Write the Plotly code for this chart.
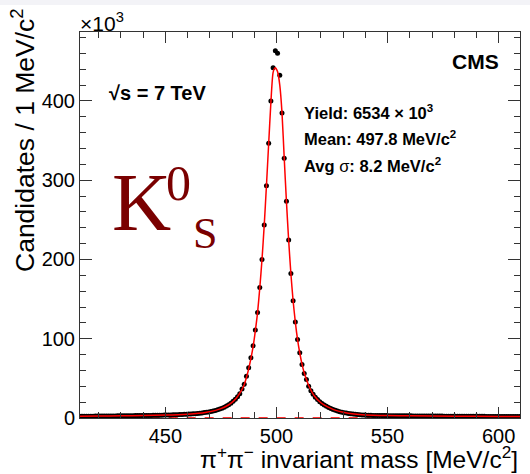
import numpy as np
import plotly.graph_objects as go

# ---------------- data ----------------
# bin centres: 1 MeV bins from 411 to 610 MeV/c^2
mass = [411.5 + i for i in range(199)]

# candidates per 1 MeV/c^2, in units of 10^3
tail_left_far = [2.2, 2.2, 2.2, 2.3, 2.3, 2.3, 2.3, 2.4, 2.4, 2.4,
                 2.4, 2.5, 2.5, 2.5, 2.6, 2.6, 2.6, 2.7, 2.7, 2.7,
                 2.8, 2.8, 2.8, 2.9, 2.9, 3.0, 3.0, 3.1, 3.1, 3.2,
                 3.2, 3.3, 3.3, 3.4, 3.4, 3.5, 3.5, 3.6, 3.7]
tail_left_near = [3.8, 3.9, 3.9, 4.0, 4.1, 4.2, 4.3, 4.4, 4.6, 4.7,
                  4.9, 5.1, 5.3, 5.5, 5.8, 6.1, 6.4, 6.8, 7.2, 7.7,
                  8.2, 8.8, 9.5, 10.3, 11.2, 12.3, 13.5, 15.0, 16.7, 18.7,
                  21.0, 23.7, 26.8, 30.5, 36.5, 42.7]
peak = [52.8, 63.5, 75.9, 91.0, 110.9, 133.2, 164.8, 200.1, 243.4, 293.1,
        346.6, 400.0, 442.0, 463.5, 460.2, 432.4, 384.8, 327.7, 273.4, 224.5,
        182.4, 147.9, 121.0, 99.1, 82.2, 67.6, 56.2, 48.6, 40.2]
tail_right_near = [34.5, 30.0, 26.3, 23.2, 20.6, 18.4, 16.4, 14.7, 13.2, 11.9,
                   10.7, 9.7, 8.8, 8.0, 7.3, 6.7, 6.2, 5.7, 5.3, 4.9,
                   4.6, 4.3, 4.1, 3.9, 3.7, 3.6, 3.5, 3.4, 3.3, 3.2]
tail_right_far = [3.1, 3.1, 3.0, 3.0, 3.0, 2.9, 2.9, 2.9, 2.8, 2.8,
                  2.8, 2.8, 2.7, 2.7, 2.7, 2.7, 2.6, 2.6, 2.6, 2.6,
                  2.5, 2.5, 2.5, 2.5, 2.5, 2.4, 2.4, 2.4, 2.4, 2.4,
                  2.3, 2.3, 2.3, 2.3, 2.3, 2.3, 2.2, 2.2, 2.2, 2.2,
                  2.2, 2.2, 2.1, 2.1, 2.1, 2.1, 2.1, 2.1, 2.1, 2.0,
                  2.0, 2.0, 2.0, 2.0, 2.0, 2.0, 2.0, 1.9, 1.9, 1.9,
                  1.9, 1.9, 1.9, 1.9, 1.9]
candidates = tail_left_far + tail_left_near + peak + tail_right_near + tail_right_far

# fit curve
fit_mass = [411, 420, 430, 440, 450, 460, 465, 470, 475, 478, 480, 482, 484,
            485.5, 486.5, 487.5, 488.5, 489.5, 490.5, 491.5, 492.5, 493.5, 494.5,
            495.5, 496.5, 497.5, 498.5, 499.4, 500.5, 501.5, 502.5, 503.5, 504.5,
            505.5, 506.5, 507.5, 508.5, 509.5, 510.5, 511.5, 512.5, 513.5, 514.5,
            517, 520, 523, 526, 530, 535, 540, 550, 560, 580, 600, 610]
fit_values = [2.2, 2.4, 2.7, 3.1, 3.7, 4.8, 5.9, 7.9, 11.8, 15.8, 19.8, 25.3, 33.5,
              42, 51, 62, 75, 90, 110, 133, 164, 200, 243,
              293, 346, 398, 436, 442, 437, 420, 385, 328, 273,
              224, 182, 148, 121, 99, 82, 68, 57, 48.5, 41,
              28, 19.2, 14, 10.3, 7.2, 5.0, 3.9, 3.1, 2.7, 2.3, 2.0, 1.9]

# background component (dashed)
bkg_mass = [411, 610]
bkg_values = [0.6, 0.6]

x_range = [411.6, 609.6]
y_range = [0, 487]
x_ticks = [450, 500, 550, 600]
y_ticks = [0, 100, 200, 300, 400]

# ---------------- figure ----------------
W, H = 530, 474
L, R, T, B = 80, 10, 32, 56
PW, PH = W - L - R, H - T - B


def px(x):
    return (x - L) / PW


def py(y):
    return (H - B - y) / PH


SANS = "Liberation Sans, Arial, Helvetica, sans-serif"
SERIF = "Liberation Serif, Times New Roman, serif"

fig = go.Figure()
fig.add_trace(go.Scatter(x=bkg_mass, y=bkg_values, mode="lines",
                         line=dict(color="#ff3030", width=1, dash="dash"),
                         hoverinfo="skip", showlegend=False))
fig.add_trace(go.Scatter(x=mass, y=candidates, mode="markers",
                         marker=dict(color="black", size=5),
                         showlegend=False))
fig.add_trace(go.Scatter(x=fit_mass, y=fit_values, mode="lines",
                         line=dict(color="#ff0000", width=1.5, shape="spline", smoothing=0.6),
                         showlegend=False))

axis_common = dict(showgrid=False, zeroline=False, showline=True, linecolor="#333333",
                   linewidth=1, mirror="allticks", ticks="inside", tickcolor="#333333",
                   tickfont=dict(family=SANS, size=20, color="black"))

fig.update_xaxes(range=x_range, tickvals=x_ticks, ticklen=11,
                 minor=dict(ticks="inside", ticklen=6, dtick=10, tick0=0, tickcolor="#333333"),
                 **axis_common)
fig.update_yaxes(range=y_range, tickvals=y_ticks, ticklen=12,
                 minor=dict(ticks="inside", ticklen=6, dtick=20, tick0=0, tickcolor="#333333"),
                 **axis_common)

ann = []
ann.append(dict(text="π<sup>+</sup>π<sup>−</sup> invariant mass [MeV/c<sup>2</sup>]",
                x=px(520), y=py(458), xanchor="right", yanchor="middle",
                font=dict(family=SANS, size=24.5, color="black")))
ann.append(dict(text="Candidates / 1 MeV/c<sup>2</sup>", textangle=-90,
                x=px(23), y=py(6), xanchor="center", yanchor="top",
                font=dict(family=SANS, size=26.5, color="black")))
ann.append(dict(text="×10<sup>3</sup>", x=px(78), y=py(37), xanchor="left", yanchor="bottom",
                font=dict(family=SANS, size=21, color="black")))
ann.append(dict(text="<b>CMS</b>", x=px(501), y=py(61), xanchor="right", yanchor="middle",
                font=dict(family=SANS, size=21, color="black")))
ann.append(dict(text="<b>√s = 7 TeV</b>", x=px(107), y=py(93), xanchor="left", yanchor="middle",
                font=dict(family=SANS, size=20, color="black")))
ann.append(dict(text="<b>Yield: 6534 × 10<sup>3</sup></b>", x=px(302), y=py(112),
                xanchor="left", yanchor="middle", font=dict(family=SANS, size=16.5, color="black")))
ann.append(dict(text="<b>Mean: 497.8 MeV/c<sup>2</sup></b>", x=px(302), y=py(138),
                xanchor="left", yanchor="middle", font=dict(family=SANS, size=16.5, color="black")))
ann.append(dict(text="<b>Avg</b> σ<b>: 8.2 MeV/c<sup>2</sup></b>", x=px(302), y=py(165),
                xanchor="left", yanchor="middle", font=dict(family=SANS, size=16.5, color="black")))
ann.append(dict(text="K", x=px(110), y=py(202), xanchor="left", yanchor="middle",
                font=dict(family=SERIF, size=82, color="#7a0000")))
ann.append(dict(text="0", x=px(178), y=py(183), xanchor="center", yanchor="middle",
                font=dict(family=SERIF, size=50, color="#7a0000")))
ann.append(dict(text="S", x=px(205), y=py(233), xanchor="center", yanchor="middle",
                font=dict(family=SERIF, size=44, color="#7a0000")))
for a in ann:
    a.update(xref="paper", yref="paper", showarrow=False)

fig.update_layout(
    width=W, height=H,
    margin=dict(l=L, r=R, t=T, b=B, pad=0),
    paper_bgcolor="white", plot_bgcolor="white",
    annotations=ann,
    shapes=[dict(type="rect", xref="paper", yref="paper",
                 x0=px(0), x1=px(W), y0=py(5), y1=py(0),
                 fillcolor="#f3f3f7", line=dict(width=0), layer="below")],
)

fig.write_html("out.html", config={"displayModeBar": False},
               post_script="document.body.style.margin='0px';document.body.style.overflow='hidden';")
